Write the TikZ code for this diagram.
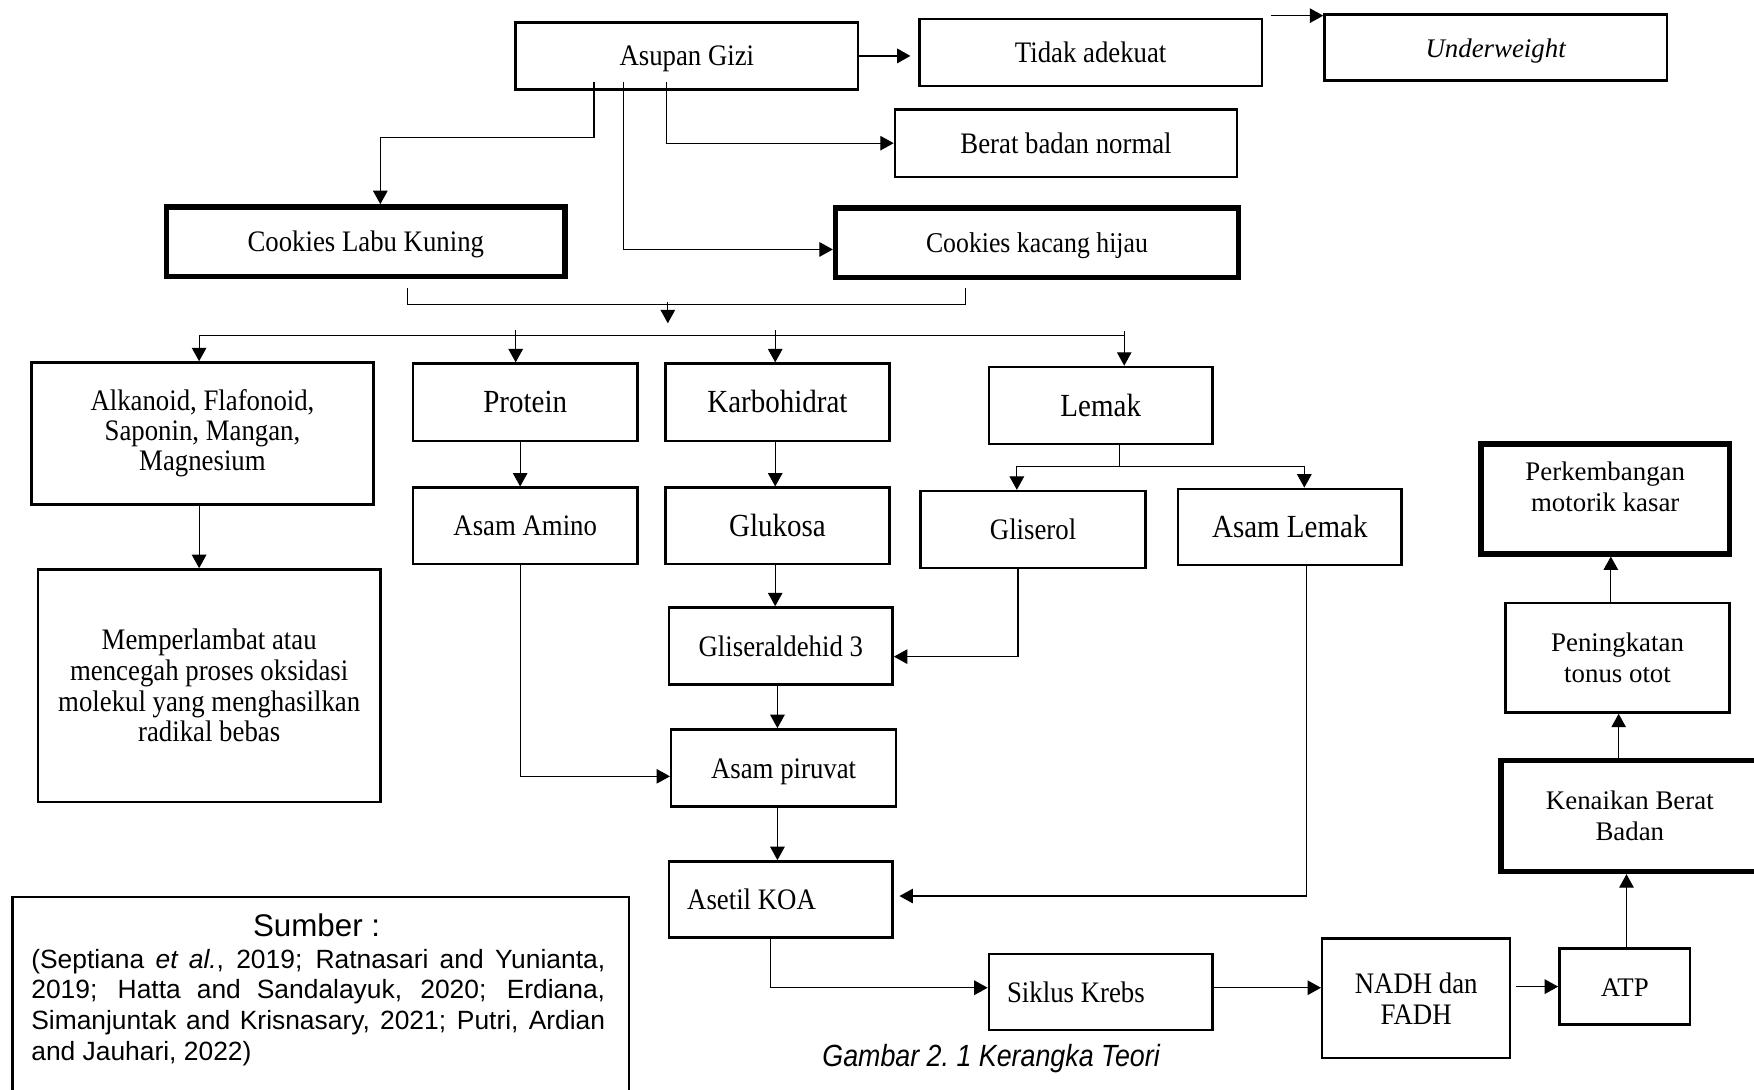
\documentclass[tikz,border=0pt]{standalone}
\usepackage{fontspec}
\setmainfont{Liberation Serif}
\newfontfamily\cs[FakeStretch=0.9]{Liberation Serif}
\newfontfamily\ar{Liberation Sans}
\newfontfamily\arc[FakeStretch=0.875]{Liberation Sans}
\usetikzlibrary{arrows.meta,calc}
\newcommand\mycfont{\cs\fontsize{13.3}{13.5}\selectfont}
\newcommand\mybfont{\cs\fontsize{14.4}{16}\selectfont}
\newcommand\myrfont{\fontsize{12}{13.75}\selectfont}
\begin{document}
\begin{tikzpicture}[x=0.5pt,y=-0.5pt,
  box/.style={draw, line width=1.1pt, inner sep=0pt, align=center, font=\mycfont},
  tbox/.style={box, line width=2.5pt},
  one/.style={text height=9pt, text depth=0pt},
  big/.style={font=\mybfont, text height=9.5pt, text depth=0pt},
  rf/.style={font=\myrfont},
  arr/.style={-{Triangle[length=6pt,width=6.5pt]}, line width=0.5pt},
  ln/.style={line width=0.5pt}]
\useasboundingbox (0,0) rectangle (1568,974);

% nodes
\node[box, one, minimum width=153pt, minimum height=30pt] (asupan) at (614,50) {Asupan Gizi};
\node[box, one, minimum width=153pt, minimum height=30pt] (tidak) at (975,47) {Tidak adekuat};
\node[box, one, minimum width=153pt, minimum height=29.5pt, font={\myrfont\itshape}] (under) at (1337,42.5) {Underweight};
\node[box, one, minimum width=153pt, minimum height=30pt] (berat) at (953,128) {Berat badan normal};
\node[tbox, one, minimum width=178pt, minimum height=31pt] (clk) at (327,216) {Cookies Labu Kuning};
\node[tbox, one, minimum width=180pt, minimum height=31pt, font={\cs\fontsize{12.8}{14}\selectfont}] (ckh) at (927,217) {Cookies kacang hijau};
\node[box, minimum width=153pt, minimum height=63.5pt] (alk) at (181,387.5) {Alkanoid, Flafonoid,\\Saponin, Mangan,\\Magnesium};
\node[box, big, minimum width=100.5pt, minimum height=34.5pt] (protein) at (469.5,359.5) {Protein};
\node[box, big, minimum width=100pt, minimum height=34.5pt] (karbo) at (695,359.5) {Karbohidrat};
\node[box, big, minimum width=100pt, minimum height=34.5pt] (lemak) at (984,362.5) {Lemak};
\node[box, one, minimum width=100.5pt, minimum height=34pt] (amino) at (469.5,470) {Asam Amino};
\node[box, big, minimum width=100pt, minimum height=34pt] (glukosa) at (695,470) {Glukosa};
\node[box, one, minimum width=100.5pt, minimum height=34.5pt] (gliserol) at (923.5,473.5) {Gliserol};
\node[box, big, minimum width=100pt, minimum height=34pt] (asamlemak) at (1153,471) {Asam Lemak};
\node[box, minimum width=153pt, minimum height=104pt, font={\cs\fontsize{13.3}{13.7}\selectfont}] (mem) at (187,613) {Memperlambat atau\\mencegah proses oksidasi\\molekul yang menghasilkan\\radikal bebas};
\node[box, one, minimum width=100pt, minimum height=34.5pt] (glis) at (698,577.5) {Gliseraldehid 3};
\node[box, one, minimum width=100.5pt, minimum height=34.5pt] (piruvat) at (700.5,686.5) {Asam piruvat};
\node[box, minimum width=100pt, minimum height=34pt] (asetil) at (698,804) {};
\node[font=\mycfont, one, anchor=west, inner sep=0pt] (asetiltext) at ($(asetil.west)+(17,0)$) {Asetil KOA};
\node[box, minimum width=100pt, minimum height=34pt] (siklus) at (984,887) {};
\node[font=\mycfont, one, anchor=west, inner sep=0pt] (siklustext) at ($(siklus.west)+(17,0)$) {Siklus Krebs};
\node[box, minimum width=84pt, minimum height=53.5pt, font={\cs\fontsize{13.3}{14}\selectfont}] (nadh) at (1266,892.5) {NADH dan\\FADH};
\node[box, rf, one, minimum width=58.5pt, minimum height=34pt] (atp) at (1452.5,882) {ATP};
\node[tbox, rf, minimum width=115pt, minimum height=49.5pt] (ken) at (1457,729.5) {Kenaikan Berat\\Badan};
\node[box, rf, minimum width=100pt, minimum height=49pt] (peni) at (1446,588) {Peningkatan\\tonus otot};
\node[tbox, minimum width=111pt, minimum height=49pt] (perk) at (1435,446) {};
\node[rf, align=center, inner sep=0pt] (perktext) at (1435,435.5) {Perkembangan\\motorik kasar};

\node[box, minimum width=275.5pt, minimum height=100pt, anchor=north west] (sumber) at (10,801) {};
\node[font={\ar\fontsize{14}{16}\selectfont}, inner sep=0pt] (sumberhead) at (283,827) {Sumber :};
\node[inner sep=0pt, anchor=north] (cite) at (284.5,848) {\parbox[t]{256.5pt}{\ar\fontsize{11.8}{13.75}\selectfont (Septiana \textit{et al.}, 2019; Ratnasari and Yunianta,\linebreak 2019; Hatta and Sandalayuk, 2020; Erdiana,\linebreak Simanjuntak and Krisnasary, 2021; Putri, Ardian\linebreak and Jauhari, 2022)}};
\node[font={\arc\itshape\fontsize{13.7}{16}\selectfont}, inner sep=0pt] (caption) at (886,946.5) {Gambar 2.\ 1 Kerangka Teori};

% free coordinates
\coordinate (uwin) at (1136,14);
\coordinate (mtop) at (597,270);
\coordinate (mbot) at (597,289);
\coordinate (busL) at (178,300);
\coordinate (busR) at (1005,300);

% connectors
\draw[arr, line width=0.9pt, shorten >=3.5pt] (asupan.east) -- (asupan.east -| tidak.west);
\draw[arr] (uwin) -- (uwin -| under.west);
\draw[arr] ($(asupan.south)+(-83,-8)$) -- ++(0,50) -| ($(clk.north)+(13,0)$);
\draw[arr] ($(asupan.south)+(-57,-8)$) |- ($(ckh.west)+(0,6)$);
\draw[arr] ($(asupan.south)+(-18,-8)$) |- (berat.west);

\draw[ln] ($(clk.south)+(37,8)$) -- ++(0,15) -| ($(ckh.south)+(-64,7)$);
\draw[arr] (mtop) -- (mbot);
\draw[ln] (busL) -- (busR);
\draw[arr] (busL) -- (busL |- alk.north);
\draw[arr] ($(protein.north)+(-8.5,-29)$) -- ($(protein.north)+(-8.5,0)$);
\draw[arr] ($(karbo.north)+(-2,-29)$) -- ($(karbo.north)+(-2,0)$);
\draw[arr] ($(busR)+(0,-4)$) -- (busR |- lemak.north);

\draw[arr] ($(alk.south)+(-3,0)$) -- ($(mem.north)+(-9,0)$);
\draw[arr] ($(protein.south)+(-4.5,0)$) -- ($(amino.north)+(-4.5,0)$);
\draw[arr] ($(karbo.south)+(-2,0)$) -- ($(glukosa.north)+(-2,0)$);
\draw[arr] ($(glukosa.south)+(-2,0)$) -- ($(glis.north)+(-5,0)$);
\draw[arr] ($(glis.south)+(-3,0)$) -- ($(piruvat.north)+(-5.5,0)$);
\draw[arr] ($(piruvat.south)+(-5.5,0)$) -- ($(asetil.north)+(-3,0)$);

\draw[ln] ($(lemak.south)+(17,0)$) -- ++(0,19) coordinate (lsplit);
\draw[arr] (lsplit) -| ($(gliserol.north)+(-14.5,0)$);
\draw[arr] (lsplit) -| ($(asamlemak.north)+(13,0)$);
\draw[arr] ($(gliserol.south)+(-13.5,0)$) |- ($(glis.east)+(0,9.5)$);
\draw[arr] ($(amino.south)+(-4.5,0)$) |- ($(piruvat.west)+(0,7.5)$);
\draw[arr, shorten >=2.5pt] ($(asamlemak.south)+(15,0)$) |- ($(asetil.east)+(0,-3)$);
\draw[arr] ($(asetil.south)+(-9,0)$) |- ($(siklus.west)+(0,-4)$);
\coordinate (sk) at ($(siklus.east)+(0,-4)$);
\draw[arr] (sk) -- (sk -| nadh.west);
\draw[arr, shorten <=2pt] (atp.west -| nadh.east) -- (atp.west);
\draw[arr] ($(atp.north)+(1.5,0)$) -- ($(ken.south)+(-3,0)$);
\draw[arr] ($(ken.north)+(-10,0)$) -- ($(peni.south)+(1,0)$);
\draw[arr] ($(peni.north)+(-6,0)$) -- ($(perk.south)+(5,0)$);
\end{tikzpicture}
\end{document}
